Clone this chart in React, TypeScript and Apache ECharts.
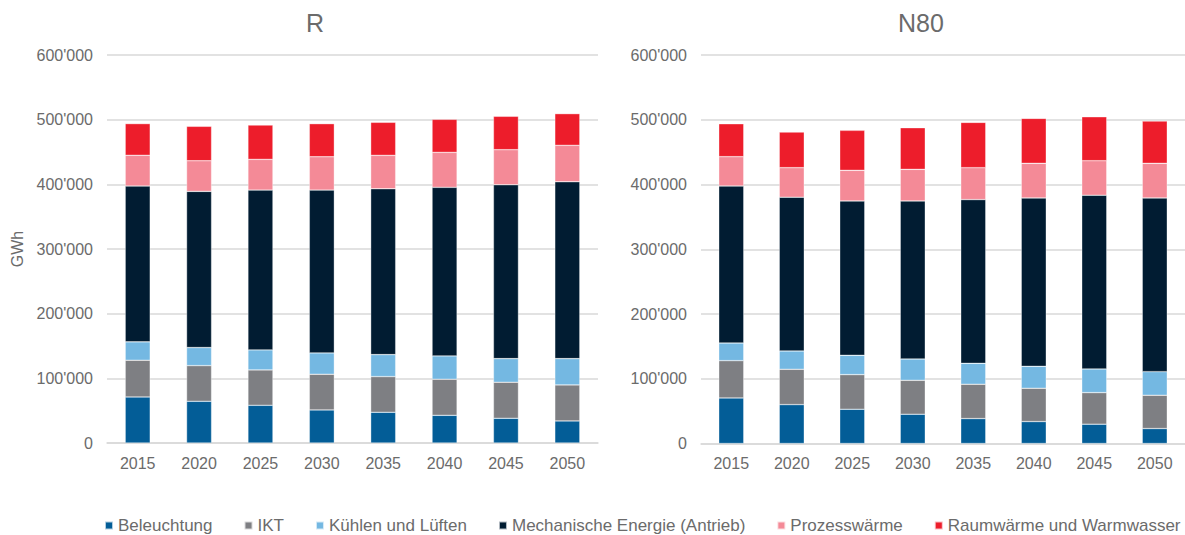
import React, { useEffect, useRef } from "react";
import * as echarts from "echarts";

const years = ["2015", "2020", "2025", "2030", "2035", "2040", "2045", "2050"];
const seriesNames = [
  "Beleuchtung",
  "IKT",
  "Kühlen und Lüften",
  "Mechanische Energie (Antrieb)",
  "Prozesswärme",
  "Raumwärme und Warmwasser",
];
const colors = ["#035d97", "#7e7f83", "#74b8e2", "#011c32", "#f48a97", "#ed1d2b"];

// Scenario R (GWh)
const rBeleuchtung = [71200, 64500, 58300, 51100, 47500, 42800, 38200, 34100];
const rIKT = [56800, 55200, 54700, 55200, 55200, 55800, 55700, 55700];
const rKuehlen = [28400, 27900, 31000, 33000, 34000, 36100, 36600, 40700];
const rMech = [241000, 241500, 247100, 251800, 256500, 260600, 268900, 273500];
const rProzess = [47500, 47400, 47500, 51600, 51600, 54100, 54200, 56300];
const rRaum = [49000, 53200, 53100, 51100, 51100, 51100, 51600, 49000];

// Scenario N80 (GWh)
const nBeleuchtung = [70400, 60100, 52900, 45200, 38500, 33900, 29800, 23100];
const nIKT = [57600, 54500, 53500, 52400, 53000, 51400, 48800, 51400];
const nKuehlen = [27200, 28300, 29800, 32900, 32300, 33900, 36500, 36500];
const nMech = [242500, 237400, 238400, 244100, 252900, 260000, 268300, 268200];
const nProzess = [45300, 45700, 47300, 48800, 49300, 53500, 53400, 53500];
const nRaum = [50800, 55000, 61700, 64300, 69900, 69400, 67800, 65200];

const yTicks = { min: 0, max: 600000, interval: 100000 };

const rData = [rBeleuchtung, rIKT, rKuehlen, rMech, rProzess, rRaum];
const nData = [nBeleuchtung, nIKT, nKuehlen, nMech, nProzess, nRaum];

const textColor = "#6b6b6b";
const gridColor = "#d9d9d9";
const font = "'Liberation Sans', Arial, sans-serif";

function fmt(v: number) {
  return String(v).replace(/\B(?=(\d{3})+(?!\d))/g, "'");
}

export default function App() {
  const ref = useRef<HTMLDivElement>(null);
  useEffect(() => {
    if (!ref.current) return;
    const chart = echarts.init(ref.current, null, { renderer: "svg" });
    const xAxisBase = (gridIndex: number) => ({
      type: "category" as const,
      gridIndex,
      data: years,
      axisLine: { lineStyle: { color: gridColor, width: 1.5 } },
      axisTick: { show: false },
      axisLabel: { color: textColor, fontSize: 16, fontFamily: font, margin: 12 },
    });
    const yAxisBase = (gridIndex: number) => ({
      type: "value" as const,
      gridIndex,
      ...yTicks,
      axisLine: { show: false },
      axisTick: { show: false },
      splitLine: { lineStyle: { color: gridColor, width: 1.5 } },
      axisLabel: {
        color: textColor,
        fontSize: 16,
        fontFamily: font,
        margin: 14,
        formatter: (v: number) => fmt(v),
      },
    });
    const mk = (data: number[][], idx: number, stack: string) =>
      data.map((d, i) => ({
        name: seriesNames[i],
        type: "bar" as const,
        stack,
        xAxisIndex: idx,
        yAxisIndex: idx,
        barWidth: 25,
        data: d,
        itemStyle: { color: colors[i], borderColor: "rgba(255,255,255,0.7)", borderWidth: 0.5 },
      }));
    chart.setOption({
      animation: false,
      backgroundColor: "#ffffff",
      color: colors,
      title: [
        {
          text: "R",
          left: 310,
          top: 5,
          textAlign: "center",
          textStyle: { color: textColor, fontSize: 25, fontWeight: "normal", fontFamily: font },
        },
        {
          text: "N80",
          left: 916,
          top: 5,
          textAlign: "center",
          textStyle: { color: textColor, fontSize: 25, fontWeight: "normal", fontFamily: font },
        },
      ],
      legend: {
        top: 517,
        left: 104,
        width: 1078,
        padding: 0,
        itemWidth: 8,
        itemHeight: 8,
        itemGap: 31,
        icon: "rect",
        textStyle: { color: textColor, fontSize: 17, fontFamily: font },
        data: seriesNames,
      },
      grid: [
        { left: 107, width: 491, top: 55, height: 388 },
        { left: 701, width: 490, top: 55, height: 388.5 },
      ],
      xAxis: [xAxisBase(0), xAxisBase(1)],
      yAxis: [
        {
          ...yAxisBase(0),
          name: "GWh",
          nameLocation: "middle",
          nameGap: 82,
          nameTextStyle: { color: textColor, fontSize: 16, fontFamily: font },
        },
        yAxisBase(1),
      ],
      series: [...mk(rData, 0, "R"), ...mk(nData, 1, "N")],
    });
    return () => chart.dispose();
  }, []);
  return (
    <div
      ref={ref}
      style={{ position: "fixed", left: 0, top: 0, width: 1185, height: 535 }}
    />
  );
}
